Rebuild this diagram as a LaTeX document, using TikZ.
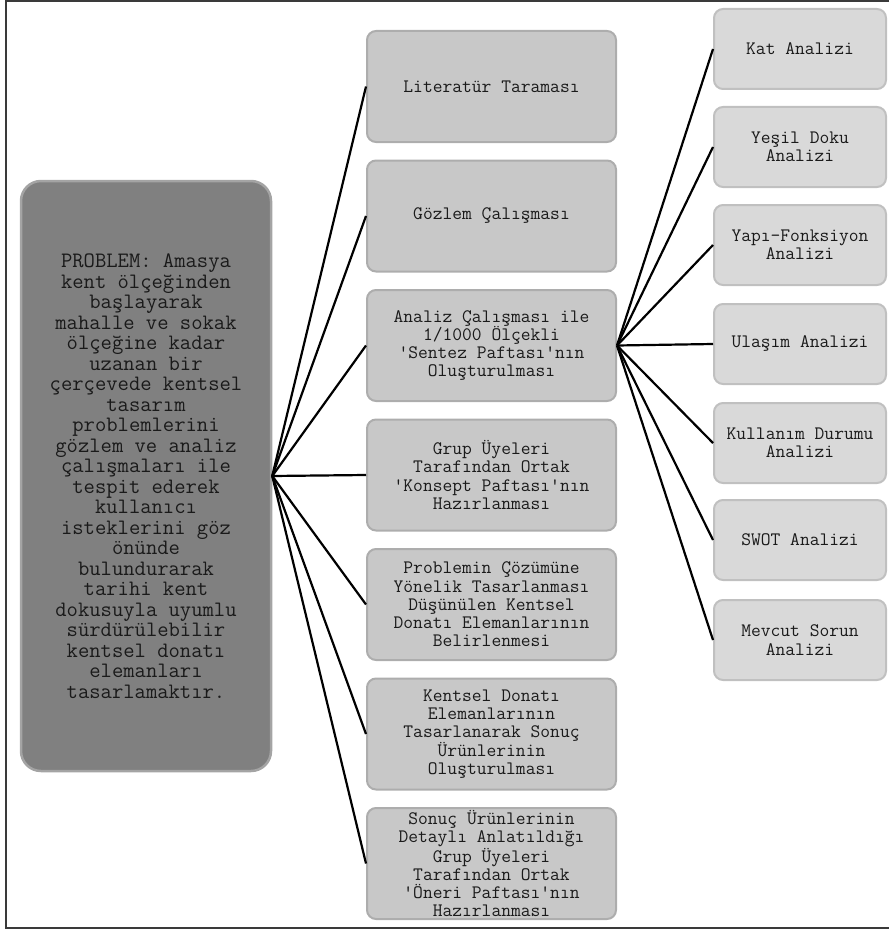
\documentclass[tikz,border=0pt]{standalone}
\definecolor{probfill}{HTML}{808080}
\definecolor{probdraw}{HTML}{A4A4A4}
\definecolor{midfill}{HTML}{C8C8C8}
\definecolor{middraw}{HTML}{ADADAD}
\definecolor{rfill}{HTML}{D9D9D9}
\definecolor{rdraw}{HTML}{C0C0C0}
\definecolor{txt}{HTML}{1A1A1A}
\definecolor{frame}{HTML}{3A3A3A}
\newcommand\aq{\textquotesingle}
\begin{document}
\begin{tikzpicture}[x=1pt,y=-1pt,
  probbox/.style={draw=probdraw,fill=probfill,line width=2.5pt,rounded corners=20pt,
    minimum width=250pt,minimum height=590pt,inner sep=2pt,align=center,text=txt,
    font=\ttfamily\fontsize{22}{20.5}\selectfont},
  midbox/.style={draw=middraw,fill=midfill,line width=2pt,rounded corners=9pt,
    minimum width=249pt,minimum height=111pt,inner sep=1pt,align=center,text=txt,
    font=\ttfamily\fontsize{19}{18.3}\selectfont},
  rbox/.style={draw=rdraw,fill=rfill,line width=2pt,rounded corners=9pt,
    minimum width=172pt,minimum height=80pt,inner sep=1pt,align=center,text=txt,
    font=\ttfamily\fontsize{19}{18.3}\selectfont},
  conn/.style={line width=2.2pt,black}]
\useasboundingbox (0,0) rectangle (889,931);
% frame
\coordinate (ftr) at (889,1);
\coordinate (ftl) at (6,1);
\coordinate (fbl) at (6,928);
\coordinate (fbr) at (889,928);
\draw[frame,line width=1.6pt] (ftr) -- (ftl) -- (fbl) -- (fbr);
% problem box
\node[probbox] (prob) at (146,476) {PROBLEM: Amasya\\kent ölçeğinden\\başlayarak\\mahalle ve sokak\\ölçeğine kadar\\uzanan bir\\çerçevede kentsel\\tasarım\\problemlerini\\gözlem ve analiz\\çalışmaları ile\\tespit ederek\\kullanıcı\\isteklerini göz\\önünde\\bulundurarak\\tarihi kent\\dokusuyla uyumlu\\sürdürülebilir\\kentsel donatı\\elemanları\\tasarlamaktır.};
% middle boxes
\node[midbox] (m1) at (491.5,86.5) {Literatür Taraması};
\node[midbox] (m2) at (491.5,216) {Gözlem Çalışması};
\node[midbox] (m3) at (491.5,345.5) {Analiz Çalışması ile\\1/1000 Ölçekli\\\aq Sentez Paftası\aq nın\\Oluşturulması};
\node[midbox] (m4) at (491.5,475) {Grup Üyeleri\\Tarafından Ortak\\\aq Konsept Paftası\aq nın\\Hazırlanması};
\node[midbox] (m5) at (491.5,604.5) {Problemin Çözümüne\\Yönelik Tasarlanması\\Düşünülen Kentsel\\Donatı Elemanlarının\\Belirlenmesi};
\node[midbox] (m6) at (491.5,734) {Kentsel Donatı\\Elemanlarının\\Tasarlanarak Sonuç\\Ürünlerinin\\Oluşturulması};
\node[midbox] (m7) at (491.5,863.5) {Sonuç Ürünlerinin\\Detaylı Anlatıldığı\\Grup Üyeleri\\Tarafından Ortak\\\aq Öneri Paftası\aq nın\\Hazırlanması};
% right boxes
\node[rbox] (r1) at (800,49) {Kat Analizi};
\node[rbox] (r2) at (800,147) {Yeşil Doku\\Analizi};
\node[rbox] (r3) at (800,245) {Yapı-Fonksiyon\\Analizi};
\node[rbox] (r4) at (800,344) {Ulaşım Analizi};
\node[rbox] (r5) at (800,443) {Kullanım Durumu\\Analizi};
\node[rbox] (r6) at (800,540) {SWOT Analizi};
\node[rbox] (r7) at (800,640) {Mevcut Sorun\\Analizi};
% connectors
\foreach \m in {m1,m2,m3,m4,m5,m6,m7}
  \draw[conn] (prob.east) -- (\m.west);
\foreach \r in {r1,r2,r3,r4,r5,r6,r7}
  \draw[conn] (m3.east) -- (\r.west);
\end{tikzpicture}
\end{document}
